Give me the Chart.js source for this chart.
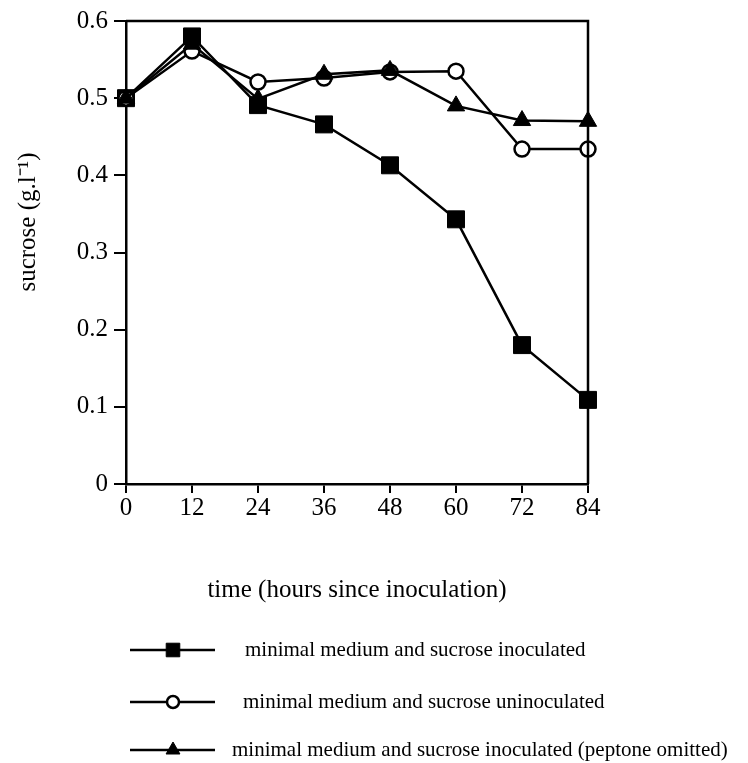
<!DOCTYPE html>
<html>
<head>
<meta charset="utf-8">
<script src="https://cdn.jsdelivr.net/npm/chart.js@4.4.1/dist/chart.umd.min.js"></script>
<style>
  html, body { margin: 0; padding: 0; background: #fff; }
  #wrap { width: 748px; height: 763px; }
</style>
</head>
<body>
<div id="wrap"><canvas id="c" width="748" height="763"></canvas></div>
<script>
// values
const hours = [0, 12, 24, 36, 48, 60, 72, 84];
const inoculated = [0.5, 0.58, 0.491, 0.466, 0.413, 0.343, 0.18, 0.109];
const uninoculated = [0.5, 0.561, 0.521, 0.526, 0.534, 0.535, 0.434, 0.434];
const noPeptone = [0.5, 0.57, 0.499, 0.531, 0.536, 0.49, 0.471, 0.47];
const yTicks = [0, 0.1, 0.2, 0.3, 0.4, 0.5, 0.6];
const seriesNames = [
  'minimal medium and sucrose inoculated',
  'minimal medium and sucrose uninoculated',
  'minimal medium and sucrose inoculated (peptone omitted)'
];
const yTitle = 'sucrose (g.l⁻¹)';

const serif = '"Liberation Serif", "Times New Roman", serif';

function pts(vals) {
  return vals.map((v, i) => ({ x: hours[i], y: v }));
}

// box on top/right, y title (sits above centre in the original) + legend under the chart
const extras = {
  id: 'extras',
  afterDraw(chart) {
    const ctx = chart.ctx;
    const a = chart.chartArea;
    ctx.save();
    ctx.strokeStyle = '#000';
    ctx.lineWidth = 2.5;
    ctx.beginPath();
    ctx.moveTo(a.left, a.top);
    ctx.lineTo(a.right, a.top);
    ctx.lineTo(a.right, a.bottom);
    ctx.stroke();

    ctx.save();
    ctx.translate(28, 222);
    ctx.rotate(-Math.PI / 2);
    ctx.fillStyle = '#000';
    ctx.font = '25px ' + serif;
    ctx.textAlign = 'center';
    ctx.textBaseline = 'middle';
    ctx.fillText(yTitle, 0, 0);
    ctx.restore();

    const rows = [650, 702, 750];
    const textX = [245, 243, 232];
    chart.data.datasets.slice().reverse().forEach((ds, i) => {
      const y = rows[i];
      ctx.strokeStyle = '#000';
      ctx.lineWidth = 2.5;
      ctx.beginPath();
      ctx.moveTo(130, y);
      ctx.lineTo(215, y);
      ctx.stroke();
      ctx.fillStyle = ds.pointBackgroundColor;
      ctx.lineWidth = ds.pointBorderWidth;
      Chart.helpers.drawPoint(ctx, {
        pointStyle: ds.pointStyle,
        rotation: 0,
        radius: ds.pointRadius * 0.8,
        borderWidth: ds.pointBorderWidth
      }, 173, y);
      ctx.fillStyle = '#000';
      ctx.font = '21px ' + serif;
      ctx.textBaseline = 'middle';
      ctx.fillText(ds.label, textX[i], y);
    });
    ctx.restore();
  }
};

new Chart(document.getElementById('c'), {
  type: 'line',
  data: {
    datasets: [
      {
        label: seriesNames[2],
        data: pts(noPeptone),
        pointStyle: 'triangle',
        pointRadius: 10,
        pointBackgroundColor: '#000',
        pointBorderColor: '#000',
        pointBorderWidth: 1,
        borderColor: '#000',
        borderWidth: 2.5
      },
      {
        label: seriesNames[1],
        data: pts(uninoculated),
        pointStyle: 'circle',
        pointRadius: 7.5,
        pointBackgroundColor: '#fff',
        pointBorderColor: '#000',
        pointBorderWidth: 2.5,
        borderColor: '#000',
        borderWidth: 2.5
      },
      {
        label: seriesNames[0],
        data: pts(inoculated),
        pointStyle: 'rect',
        pointRadius: 12,
        pointBackgroundColor: '#000',
        pointBorderColor: '#000',
        pointBorderWidth: 1,
        borderColor: '#000',
        borderWidth: 2.5
      }
    ]
  },
  options: {
    responsive: false,
    animation: false,
    clip: false,
    layout: { padding: { left: 0, right: 160, top: 21, bottom: 158 } },
    plugins: { legend: { display: false }, tooltip: { enabled: false } },
    scales: {
      x: {
        type: 'linear',
        min: 0,
        max: 84,
        afterBuildTicks: s => { s.ticks = hours.map(v => ({ value: v })); },
        afterFit: s => { s.height = 121; },
        grid: { drawOnChartArea: false, drawTicks: true, tickLength: 9, color: '#000', lineWidth: 2 },
        border: { color: '#000', width: 2.5 },
        ticks: { color: '#000', font: { family: serif, size: 25 }, padding: 0, maxRotation: 0 },
        title: {
          display: true,
          text: 'time (hours since inoculation)',
          color: '#000',
          font: { family: serif, size: 25 },
          padding: { top: 0, bottom: 0 }
        }
      },
      y: {
        min: 0,
        max: 0.6,
        afterBuildTicks: s => { s.ticks = yTicks.map(v => ({ value: v })); },
        afterFit: s => { s.width = 126; },
        grid: { drawOnChartArea: false, drawTicks: true, tickLength: 12, color: '#000', lineWidth: 2 },
        border: { color: '#000', width: 2.5 },
        ticks: {
          color: '#000',
          font: { family: serif, size: 25 },
          padding: 6,
          callback: v => (v === 0 ? '0' : v.toFixed(1))
        },
        title: { display: false }
      }
    }
  },
  plugins: [extras]
});
</script>
</body>
</html>
